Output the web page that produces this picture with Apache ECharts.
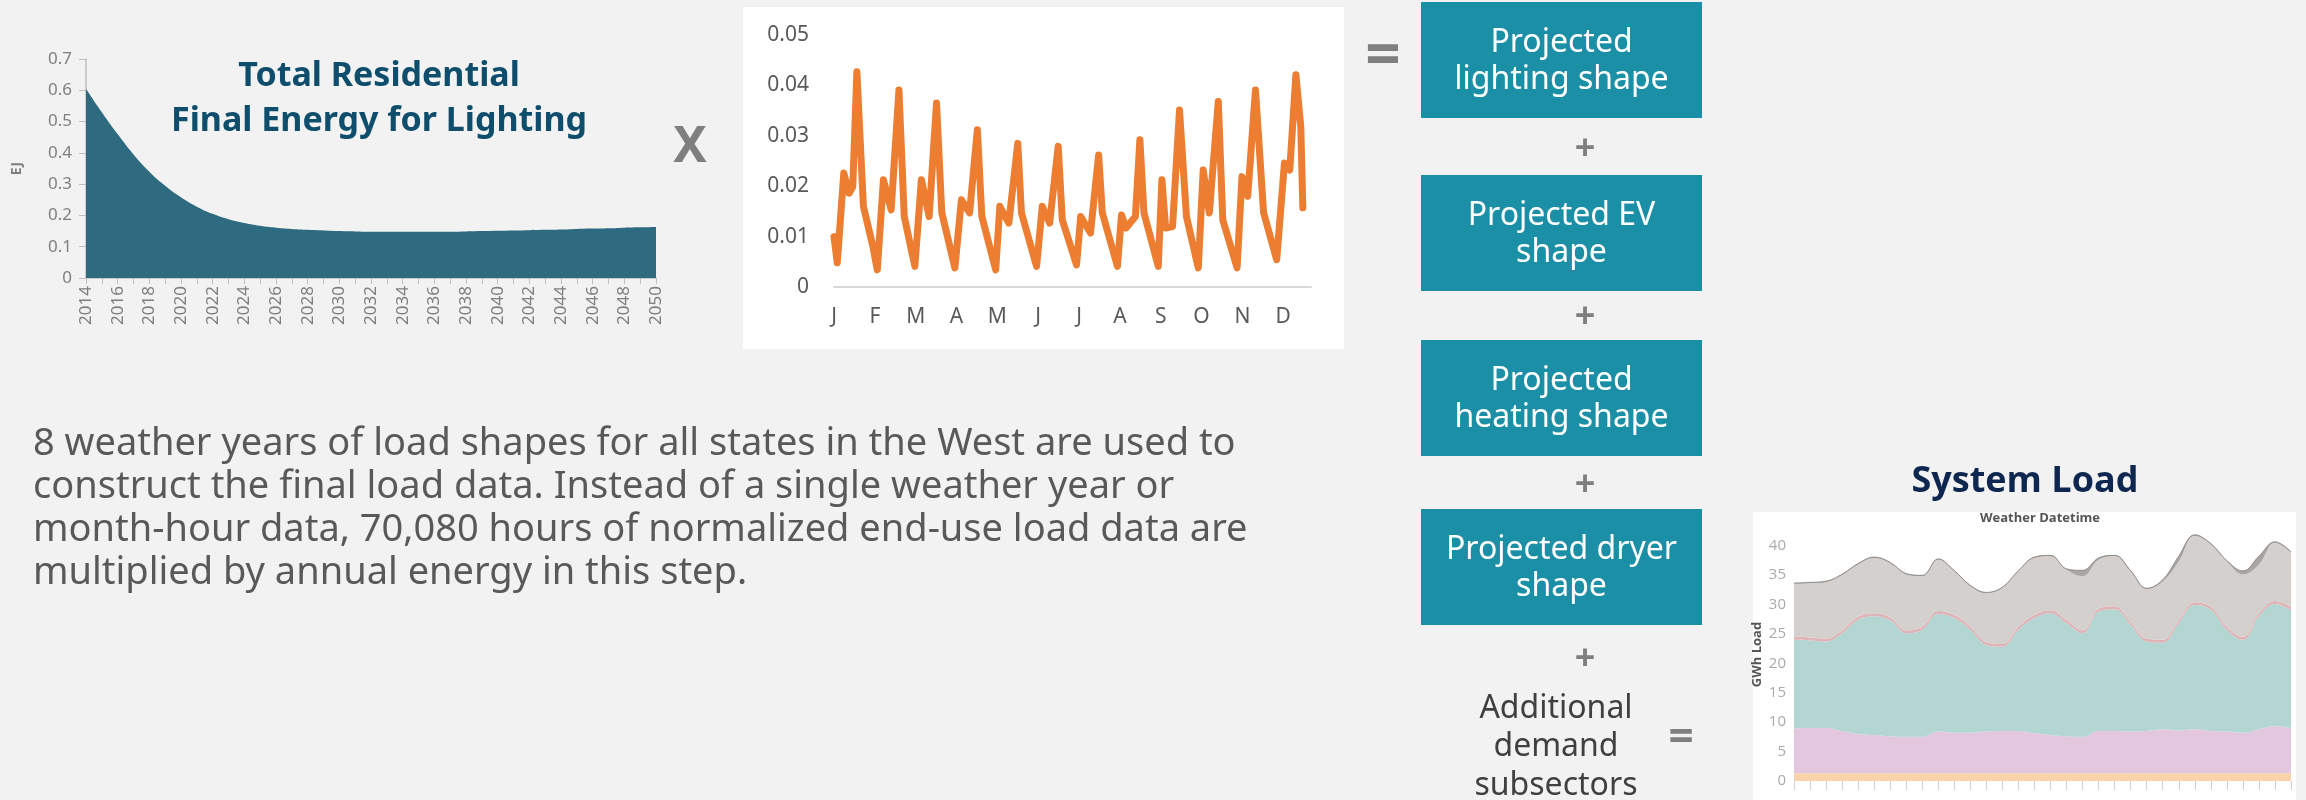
<!DOCTYPE html>
<html>
<head>
<meta charset="utf-8">
<script src="https://cdn.jsdelivr.net/npm/echarts@6/dist/echarts.min.js"></script>
<style>
  html, body { margin: 0; padding: 0; background: #f2f2f2; }
  #main { width: 2306px; height: 800px; }
</style>
</head>
<body>
<div id="main"></div>
<script>
// lighting final energy, EJ
var years = ['2014', '2015', '2016', '2017', '2018', '2019', '2020', '2021', '2022', '2023',
  '2024', '2025', '2026', '2027', '2028', '2029', '2030', '2031', '2032', '2033',
  '2034', '2035', '2036', '2037', '2038', '2039', '2040', '2041', '2042', '2043',
  '2044', '2045', '2046', '2047', '2048', '2049', '2050'];
var lightingEJ = [0.605, 0.53, 0.46, 0.395, 0.34, 0.295, 0.258, 0.228, 0.205, 0.188,
  0.176, 0.167, 0.161, 0.157, 0.154, 0.152, 0.150, 0.149, 0.148, 0.148,
  0.148, 0.148, 0.148, 0.148, 0.149, 0.150, 0.151, 0.152, 0.153, 0.154,
  0.155, 0.157, 0.158, 0.159, 0.161, 0.162, 0.163];

// normalized lighting shape (position in months from Jan, share)
var months = ['J', 'F', 'M', 'A', 'M', 'J', 'J', 'A', 'S', 'O', 'N', 'D'];
var shapePos = [0, 0.08, 0.24, 0.37, 0.46, 0.56, 0.72, 0.95, 1.06, 1.21,
  1.40, 1.59, 1.72, 1.98, 2.14, 2.33, 2.51, 2.64, 2.96, 3.12,
  3.32, 3.51, 3.62, 3.96, 4.06, 4.28, 4.50, 4.59, 4.96, 5.10,
  5.28, 5.49, 5.59, 5.94, 6.04, 6.28, 6.48, 6.57, 6.94, 7.04,
  7.15, 7.38, 7.49, 7.59, 7.94, 8.03, 8.12, 8.29, 8.46, 8.63,
  8.92, 9.04, 9.19, 9.41, 9.52, 9.87, 9.99, 10.13, 10.32, 10.52,
  10.84, 11.03, 11.16, 11.31, 11.43, 11.48];
var shapeVal = [0.0100, 0.0048, 0.0226, 0.0186, 0.0199, 0.0427, 0.0160, 0.0081, 0.0034, 0.0213,
  0.0153, 0.0391, 0.0140, 0.0041, 0.0213, 0.0140, 0.0365, 0.0147, 0.0038, 0.0173,
  0.0147, 0.0312, 0.0140, 0.0034, 0.0160, 0.0127, 0.0285, 0.0147, 0.0041, 0.0160,
  0.0127, 0.0279, 0.0133, 0.0044, 0.0140, 0.0107, 0.0262, 0.0147, 0.0041, 0.0143,
  0.0117, 0.0140, 0.0292, 0.0147, 0.0041, 0.0213, 0.0117, 0.0120, 0.0351, 0.0140,
  0.0038, 0.0232, 0.0147, 0.0368, 0.0133, 0.0038, 0.0219, 0.0180, 0.0391, 0.0147,
  0.0054, 0.0246, 0.0232, 0.0421, 0.0318, 0.0157];

// system load layers, GWh (stacked, bottom to top)
var loadOrange = [1.3, 1.3, 1.3, 1.3, 1.3, 1.3, 1.3, 1.3, 1.3, 1.3, 1.3, 1.3, 1.3, 1.3, 1.3, 1.3,
  1.3, 1.3, 1.3, 1.3, 1.3, 1.3, 1.3, 1.3, 1.3, 1.3, 1.3, 1.3, 1.3, 1.3, 1.3, 1.3];
var loadPink = [7.6, 7.7, 7.7, 7.2, 6.7, 6.5, 6.3, 6.2, 6.2, 7.1, 6.9, 6.9, 7.1, 7.2, 7.2, 6.8,
  6.5, 6.3, 6.2, 7.2, 7.2, 7.1, 7.2, 7.5, 7.3, 7.5, 7.2, 7.1, 6.9, 7.5, 8.0, 7.7];
var loadTeal = [15.1, 14.9, 14.7, 16.6, 19.4, 20.2, 19.7, 17.6, 18.2, 20.0, 19.5, 17.5, 14.7, 14.3, 17.2, 19.6,
  20.7, 19.2, 17.6, 20.3, 20.7, 18.1, 15.2, 14.7, 18.2, 21.1, 20.6, 17.3, 15.8, 19.2, 20.8, 20.1];
var loadRed = [0.5, 0.5, 0.5, 0.5, 0.5, 0.5, 0.5, 0.5, 0.5, 0.5, 0.5, 0.5, 0.5, 0.5, 0.5, 0.5,
  0.5, 0.5, 0.5, 0.5, 0.5, 0.5, 0.5, 0.5, 0.5, 0.5, 0.5, 0.5, 0.5, 0.5, 0.5, 0.5];
var loadGray = [9.0, 9.2, 9.6, 9.4, 8.9, 9.4, 9.2, 9.5, 8.6, 8.7, 7.4, 6.9, 8.3, 9.5, 9.4, 9.7,
  9.2, 8.6, 9.2, 8.3, 8.5, 8.6, 8.4, 9.9, 10.0, 11.3, 10.6, 11.1, 10.6, 8.3, 9.9, 9.2];
var loadDark = [0.15, 0.15, 0.15, 0.15, 0.15, 0.15, 0.15, 0.15, 0.15, 0.15, 0.15, 0.15, 0.15, 0.15, 0.15, 0.15,
  0.15, 0.15, 1.0, 0.3, 0.15, 0.15, 0.15, 0.3, 0.9, 0.15, 0.15, 0.15, 0.6, 1.4, 0.15, 0.15];

var paragraph = [
  '8 weather years of load shapes for all states in the West are used to',
  'construct the final load data. Instead of a single weather year or',
  'month-hour data, 70,080 hours of normalized end-use load data are',
  'multiplied by annual energy in this step.'
];
var boxes = ['Projected\nlighting shape', 'Projected EV\nshape', 'Projected\nheating shape', 'Projected dryer\nshape'];
var boxTops = [2, 175, 340, 509];
var plusY = [150, 318, 486, 660];

var FONT = '"Noto Sans", sans-serif';
var chart = echarts.init(document.getElementById('main'));

var graphics = [
  { type: 'rect', z: -10, shape: { x: 743, y: 7, width: 601, height: 342 }, style: { fill: '#ffffff' } },
  { type: 'rect', z: -10, shape: { x: 1753, y: 512, width: 543, height: 288 }, style: { fill: '#ffffff' } },
  { type: 'text', x: 379, y: 99, style: {
    text: 'Total Residential\nFinal Energy for Lighting', fill: '#0e4e6c', font: 'bold 34px ' + FONT,
    align: 'center', verticalAlign: 'middle', lineHeight: 45 } },
  { type: 'text', x: 690, y: 148, style: { text: 'X', fill: '#7f7f7f', font: 'bold 50px ' + FONT,
    align: 'center', verticalAlign: 'middle' } },
  { type: 'text', x: 1383, y: 58, style: { text: '=', fill: '#7f7f7f', font: 'bold 62px ' + FONT,
    align: 'center', verticalAlign: 'middle' } },
  { type: 'text', x: 1556, y: 747, style: { text: 'Additional\ndemand\nsubsectors', fill: '#404040',
    font: '32px ' + FONT, align: 'center', verticalAlign: 'middle', lineHeight: 38.5 } },
  { type: 'text', x: 1681, y: 738, style: { text: '=', fill: '#7f7f7f', font: 'bold 44px ' + FONT,
    align: 'center', verticalAlign: 'middle' } },
  { type: 'text', x: 2025, y: 482, style: { text: 'System Load', fill: '#0d2750', font: 'bold 36px "Open Sans", sans-serif',
    align: 'center', verticalAlign: 'middle' } },
  { type: 'text', x: 2040, y: 518, style: { text: 'Weather Datetime', fill: '#555555', font: 'bold 13px "Open Sans", sans-serif',
    align: 'center', verticalAlign: 'middle' } },
  { type: 'text', x: 33, y: 509, style: { text: paragraph.join('\n'), fill: '#595959', font: '38px ' + FONT,
    align: 'left', verticalAlign: 'middle', lineHeight: 43 } }
];
boxes.forEach(function (label, i) {
  graphics.push({ type: 'rect', shape: { x: 1421, y: boxTops[i], width: 281, height: 116 }, style: { fill: '#1b8fa6' } });
  graphics.push({ type: 'text', x: 1561.5, y: boxTops[i] + 59, style: { text: label, fill: '#ffffff',
    font: '32px ' + FONT, align: 'center', verticalAlign: 'middle', lineHeight: 37 } });
});
plusY.forEach(function (y) {
  graphics.push({ type: 'text', x: 1585, y: y, style: { text: '+', fill: '#7f7f7f', font: 'bold 36px ' + FONT,
    align: 'center', verticalAlign: 'middle' } });
});

function layer(name, data, color, line) {
  return {
    name: name, type: 'line', stack: 'load', xAxisIndex: 2, yAxisIndex: 2,
    data: data, smooth: 0.4, showSymbol: false, silent: true,
    lineStyle: line ? { width: 1, color: line } : { width: 0 },
    areaStyle: { color: color, opacity: 1 }
  };
}

var option = {
  backgroundColor: '#f2f2f2',
  animation: false,
  grid: [
    { left: 86, top: 59, width: 570, height: 219 },
    { left: 834, top: 35, width: 477, height: 252 },
    { left: 1794, top: 528, width: 497, height: 253 }
  ],
  xAxis: [
    {
      gridIndex: 0, type: 'category', data: years, boundaryGap: false,
      axisLine: { lineStyle: { color: '#bfbfbf', width: 1.5 } },
      axisTick: { interval: 0, length: 6, lineStyle: { color: '#bfbfbf' } },
      axisLabel: { interval: 1, rotate: 90, color: '#7f7f7f', fontSize: 17, fontFamily: FONT, margin: 8 }
    },
    {
      gridIndex: 1, type: 'value', min: 0, max: 11.68, interval: 1,
      axisLine: { lineStyle: { color: '#d9d9d9', width: 2 } },
      axisTick: { show: false }, splitLine: { show: false },
      axisLabel: {
        color: '#595959', fontSize: 21, fontFamily: FONT, margin: 20, showMaxLabel: false,
        formatter: function (v) { return Number.isInteger(v) ? months[v] : ''; }
      }
    },
    {
      gridIndex: 2, type: 'category', boundaryGap: false,
      axisLine: { show: false },
      axisTick: { interval: 0, length: 9, lineStyle: { color: '#d0d0d0' } },
      axisLabel: { show: false }
    }
  ],
  yAxis: [
    {
      gridIndex: 0, type: 'value', min: 0, max: 0.7, interval: 0.1,
      name: 'EJ', nameLocation: 'middle', nameGap: 62,
      nameTextStyle: { color: '#7f7f7f', fontSize: 14, fontWeight: 'bold', fontFamily: FONT },
      axisLine: { show: true, lineStyle: { color: '#bfbfbf', width: 1.5 } },
      axisTick: { show: true, length: 7, lineStyle: { color: '#bfbfbf' } },
      splitLine: { show: false },
      axisLabel: { color: '#7f7f7f', fontSize: 17, fontFamily: FONT, margin: 14,
        formatter: function (v) { return v === 0 ? '0' : v.toFixed(1); } }
    },
    {
      gridIndex: 1, type: 'value', min: 0, max: 0.05, interval: 0.01,
      axisLine: { show: false }, axisTick: { show: false }, splitLine: { show: false },
      axisLabel: { color: '#595959', fontSize: 21, fontFamily: FONT, margin: 25,
        formatter: function (v) { return v === 0 ? '0' : v.toFixed(2); } }
    },
    {
      gridIndex: 2, type: 'value', min: 0, max: 43, interval: 5,
      name: 'GWh Load', nameLocation: 'middle', nameGap: 30,
      nameTextStyle: { color: '#555555', fontSize: 13, fontWeight: 'bold', fontFamily: '"Open Sans", sans-serif' },
      axisLine: { show: false }, axisTick: { show: false }, splitLine: { show: false },
      axisLabel: { color: '#aaaaaa', fontSize: 15, fontFamily: '"Open Sans", sans-serif', margin: 8, showMaxLabel: false }
    }
  ],
  graphic: graphics,
  series: [
    {
      name: 'Lighting', type: 'line', xAxisIndex: 0, yAxisIndex: 0,
      data: lightingEJ, smooth: true, showSymbol: false, silent: true,
      lineStyle: { width: 0 }, areaStyle: { color: '#2e6b81', opacity: 1 }
    },
    {
      name: 'Lighting shape', type: 'line', xAxisIndex: 1, yAxisIndex: 1,
      data: shapePos.map(function (p, i) { return [p, shapeVal[i]]; }),
      showSymbol: false, silent: true,
      lineStyle: { color: '#ed7d31', width: 7, join: 'round', cap: 'round' }
    },
    layer('Other', loadOrange, '#fbd3aa'),
    layer('Lighting', loadPink, '#e2c7df'),
    layer('Heating', loadTeal, '#b3d6d3'),
    layer('EV', loadRed, '#e0b3b6'),
    layer('Base', loadGray, '#d4d0ce'),
    layer('Dryer', loadDark, '#aaa6a4', '#8f8b89')
  ]
};
chart.setOption(option);
</script>
</body>
</html>
